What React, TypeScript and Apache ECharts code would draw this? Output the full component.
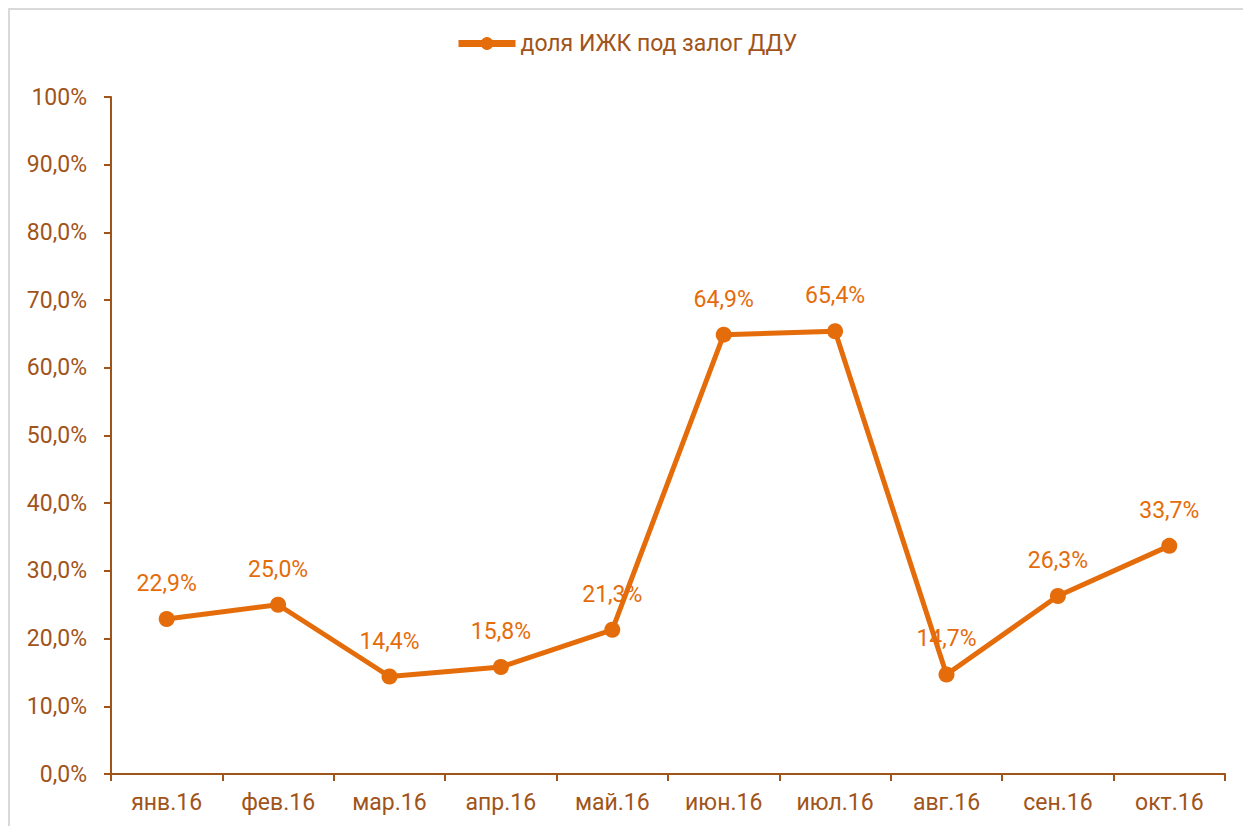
import React, { useEffect, useRef } from "react";
import * as echarts from "echarts";

const categories = ["янв.16", "фев.16", "мар.16", "апр.16", "май.16", "июн.16", "июл.16", "авг.16", "сен.16", "окт.16"];
const shareValues = [0.229, 0.25, 0.144, 0.158, 0.213, 0.649, 0.654, 0.147, 0.263, 0.337];
const seriesName = "доля ИЖК под залог ДДУ";

const AXIS_COLOR = "#A0541A";
const LINE_COLOR = "#E46C0A";
const FONT = "Roboto, 'Noto Sans', sans-serif";

const fmt = (v: number) => (v * 100).toFixed(1).replace(".", ",") + "%";

export default function App() {
  const ref = useRef<HTMLDivElement>(null);
  useEffect(() => {
    if (!ref.current) return;
    const chart = echarts.init(ref.current, undefined, { renderer: "svg" });
    chart.setOption({
      animation: false,
      textStyle: { fontFamily: FONT },
      graphic: [
        {
          type: "rect",
          shape: { x: 9, y: 9, width: 1400, height: 1000 },
          style: { fill: "none", stroke: "#D9D9D9", lineWidth: 2 },
          silent: true,
        },
      ],
      legend: {
        top: 32,
        left: 455,
        padding: 0,
        itemWidth: 57,
        itemHeight: 16,
        itemGap: 4,
        lineStyle: { width: 7, color: LINE_COLOR },
        itemStyle: { color: LINE_COLOR },
        textStyle: { color: AXIS_COLOR, fontSize: 23, fontFamily: FONT },
        data: [{ name: seriesName }],
      },
      grid: { left: 111, right: 18, top: 97, bottom: 52, containLabel: false },
      xAxis: {
        type: "category",
        data: categories,
        boundaryGap: true,
        axisLine: { lineStyle: { color: AXIS_COLOR, width: 2 } },
        axisTick: { show: true, length: 7, lineStyle: { color: AXIS_COLOR, width: 2 } },
        axisLabel: { color: AXIS_COLOR, fontSize: 23, margin: 17, fontFamily: FONT },
        splitLine: { show: false },
      },
      yAxis: {
        type: "value",
        min: 0,
        max: 1,
        interval: 0.1,
        axisLine: { show: true, lineStyle: { color: AXIS_COLOR, width: 2 } },
        axisTick: { show: true, length: 7, lineStyle: { color: AXIS_COLOR, width: 2 } },
        axisLabel: {
          color: AXIS_COLOR,
          fontSize: 23,
          margin: 24,
          fontFamily: FONT,
          formatter: (v: number) => (Math.abs(v - 1) < 1e-9 ? "100%" : fmt(v)),
        },
        splitLine: { show: false },
      },
      series: [
        {
          name: seriesName,
          type: "line",
          data: shareValues,
          symbol: "circle",
          symbolSize: 16,
          itemStyle: { color: LINE_COLOR },
          lineStyle: { color: LINE_COLOR, width: 5 },
          label: {
            show: true,
            position: "top",
            distance: 16,
            color: LINE_COLOR,
            fontSize: 23,
            fontFamily: FONT,
            formatter: (p: any) => fmt(p.value),
          },
        },
      ],
    });
    return () => chart.dispose();
  }, []);
  return (
    <div
      ref={ref}
      style={{ position: "absolute", left: 0, top: 0, width: 1243, height: 826 }}
    />
  );
}
